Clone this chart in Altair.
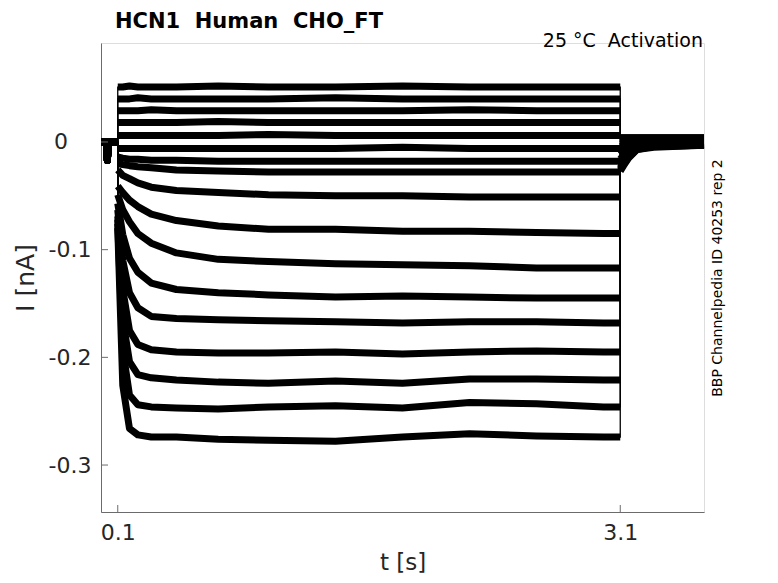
import altair as alt
import pandas as pd

# ---- data ----
HOLD_T = [0.0, 0.034, 0.038, 0.042, 0.046, 0.1]
HOLD_I = [0.0, 0.0, -0.017, -0.006, 0.0, 0.0]

STEP_T = [0.1, 0.13, 0.17, 0.22, 0.3, 0.45, 0.7, 1.0, 1.4, 1.8, 2.2, 2.6, 3.0, 3.1]
STEP_I = [
    [0.051, 0.051, 0.052, 0.051, 0.051, 0.051, 0.052, 0.051, 0.051, 0.052, 0.051, 0.051, 0.051, 0.051],
    [0.040, 0.040, 0.040, 0.041, 0.040, 0.040, 0.040, 0.040, 0.041, 0.040, 0.040, 0.040, 0.040, 0.040],
    [0.029, 0.029, 0.029, 0.029, 0.030, 0.029, 0.029, 0.029, 0.029, 0.029, 0.030, 0.029, 0.029, 0.029],
    [0.018, 0.018, 0.018, 0.018, 0.018, 0.018, 0.019, 0.018, 0.018, 0.018, 0.018, 0.018, 0.018, 0.018],
    [0.006, 0.006, 0.006, 0.006, 0.006, 0.006, 0.006, 0.007, 0.006, 0.006, 0.006, 0.006, 0.006, 0.006],
    [-0.006, -0.006, -0.006, -0.006, -0.006, -0.006, -0.006, -0.006, -0.006, -0.005, -0.006, -0.006, -0.006, -0.006],
    [-0.014, -0.015, -0.016, -0.016, -0.017, -0.017, -0.018, -0.018, -0.018, -0.018, -0.018, -0.018, -0.018, -0.018],
    [-0.020, -0.021, -0.022, -0.023, -0.024, -0.026, -0.027, -0.028, -0.028, -0.028, -0.028, -0.028, -0.028, -0.028],
    [-0.026, -0.031, -0.034, -0.038, -0.042, -0.045, -0.047, -0.049, -0.050, -0.050, -0.051, -0.051, -0.051, -0.051],
    [-0.041, -0.047, -0.054, -0.060, -0.067, -0.073, -0.078, -0.081, -0.081, -0.083, -0.083, -0.084, -0.085, -0.085],
    [-0.049, -0.063, -0.074, -0.085, -0.094, -0.103, -0.109, -0.111, -0.113, -0.114, -0.115, -0.117, -0.117, -0.117],
    [-0.057, -0.086, -0.108, -0.121, -0.131, -0.137, -0.140, -0.142, -0.144, -0.143, -0.144, -0.145, -0.145, -0.145],
    [-0.063, -0.110, -0.140, -0.154, -0.162, -0.164, -0.165, -0.166, -0.167, -0.168, -0.167, -0.167, -0.168, -0.168],
    [-0.069, -0.137, -0.175, -0.188, -0.193, -0.195, -0.196, -0.196, -0.195, -0.197, -0.195, -0.194, -0.195, -0.195],
    [-0.072, -0.165, -0.204, -0.216, -0.219, -0.221, -0.223, -0.224, -0.222, -0.224, -0.220, -0.220, -0.221, -0.221],
    [-0.076, -0.193, -0.235, -0.244, -0.246, -0.247, -0.248, -0.246, -0.245, -0.247, -0.242, -0.243, -0.246, -0.246],
    [-0.080, -0.226, -0.266, -0.272, -0.274, -0.274, -0.276, -0.277, -0.278, -0.274, -0.271, -0.273, -0.274, -0.274],
]

TAIL_T = [3.1, 3.12, 3.15, 3.2, 3.3, 3.6]
TAIL_I = [
    [0.004, 0.004, 0.004, 0.004, 0.004, 0.004],
    [0.004, 0.004, 0.004, 0.004, 0.004, 0.004],
    [0.003, 0.003, 0.003, 0.003, 0.003, 0.003],
    [0.002, 0.002, 0.002, 0.002, 0.002, 0.002],
    [0.002, 0.002, 0.002, 0.002, 0.002, 0.002],
    [0.001, 0.001, 0.001, 0.001, 0.001, 0.001],
    [-0.002, -0.001, 0.0, 0.0, 0.0, 0.0],
    [-0.004, -0.003, -0.001, 0.0, 0.001, 0.001],
    [-0.008, -0.006, -0.003, -0.001, 0.0, 0.0],
    [-0.012, -0.009, -0.005, -0.002, -0.001, 0.0],
    [-0.016, -0.012, -0.007, -0.003, -0.002, -0.001],
    [-0.019, -0.015, -0.009, -0.004, -0.002, -0.001],
    [-0.022, -0.017, -0.011, -0.005, -0.003, -0.002],
    [-0.024, -0.019, -0.012, -0.006, -0.004, -0.002],
    [-0.025, -0.020, -0.013, -0.006, -0.004, -0.003],
    [-0.026, -0.021, -0.014, -0.007, -0.004, -0.003],
    [-0.027, -0.022, -0.015, -0.007, -0.005, -0.003],
]

X_TICKS = [0.1, 3.1]
Y_TICKS = [0, -0.1, -0.2, -0.3]
ZERO_LABEL = ["0"]
X_DOMAIN = [0.0, 3.6]
Y_DOMAIN = [-0.3436, 0.0919]

TITLE = ["HCN1\u00a0 Human\u00a0 CHO_FT"]
SUBTITLE = ["25 \u00b0C\u00a0 Activation"]
SIDE_TEXT = ["BBP Channelpedia ID 40253 rep 2"]

# ---- build table ----
rows = []
for k in range(len(STEP_I)):
    idx = 0
    for t, v in zip(HOLD_T, HOLD_I):
        rows.append(dict(trace=k, seg="hold", t=t, i=v, idx=idx)); idx += 1
    for t, v in zip(STEP_T, STEP_I[k]):
        rows.append(dict(trace=k, seg="step", t=t, i=v, idx=idx)); idx += 1
    for t, v in zip(TAIL_T, TAIL_I[k]):
        rows.append(dict(trace=k, seg="tail", t=t, i=v, idx=idx)); idx += 1
df = pd.DataFrame(rows)
df["key"] = df["trace"].astype(str) + "_" + df["seg"]

W, H = 603, 469
FONT = "DejaVu Sans"
TXT = "#262626"
AX = "#6b6b6b"

xs = alt.Scale(domain=X_DOMAIN, nice=False, zero=False)
ys = alt.Scale(domain=Y_DOMAIN, nice=False, zero=False)

x_axis = alt.Axis(values=X_TICKS, format=".1f", grid=False, ticks=False, tickSize=0,
                  domainColor=AX, domainWidth=1, labelFontSize=22, labelColor=TXT,
                  labelFont=FONT, labelPadding=10, title="t [s]", titleFont=FONT,
                  titleFontSize=23, titleFontWeight="normal", titleColor=TXT,
                  titleX=W / 2, titleY=57, titleBaseline="alphabetic", titleAlign="center")
y_axis = alt.Axis(values=Y_TICKS, grid=False, ticks=False, tickSize=0,
                  domainColor=AX, domainWidth=1, labelFontSize=22, labelColor=TXT,
                  labelFont=FONT, labelPadding=10,
                  labelExpr="datum.value == 0 ? '' : '-' + format(-datum.value, '.1f')",
                  title="I [nA]", titleFont=FONT, titleFontSize=25,
                  titleFontWeight="normal", titleColor=TXT, titleX=-76, titleY=H / 2,
                  titleBaseline="middle", titleAlign="center", titleAngle=-90)

base = alt.Chart(df)
thick = base.mark_line(color="black", strokeWidth=7, strokeJoin="round").encode(
    x=alt.X("t:Q", scale=xs, axis=x_axis),
    y=alt.Y("i:Q", scale=ys, axis=y_axis),
    detail="key:N",
    order="idx:Q",
)
thin = base.mark_line(color="black", strokeWidth=1.3).encode(
    x=alt.X("t:Q", scale=xs),
    y=alt.Y("i:Q", scale=ys),
    detail="trace:N",
    order="idx:Q",
)

yt = alt.Chart(pd.DataFrame({"v": Y_TICKS})).mark_rule(color=AX, strokeWidth=1).encode(
    y=alt.Y("v:Q", scale=ys), x=alt.value(0), x2=alt.value(7))
xt = alt.Chart(pd.DataFrame({"v": X_TICKS})).mark_rule(color=AX, strokeWidth=1).encode(
    x=alt.X("v:Q", scale=xs), y=alt.value(H), y2=alt.value(H - 7))

zero_lab = alt.Chart(pd.DataFrame({"v": [0.0], "s": ZERO_LABEL})).mark_text(
    font=FONT, fontSize=22, color=TXT, align="right", baseline="middle").encode(
    y=alt.Y("v:Q", scale=ys), x=alt.value(-33), text="s:N")

title = alt.Chart(pd.DataFrame({"s": TITLE})).mark_text(
    font=FONT, fontSize=21, fontWeight="bold", color="black", align="left",
    baseline="alphabetic").encode(text="s:N", x=alt.value(14), y=alt.value(-15))
sub = alt.Chart(pd.DataFrame({"s": SUBTITLE})).mark_text(
    font=FONT, fontSize=19, color="black", align="right",
    baseline="alphabetic").encode(text="s:N", x=alt.value(602), y=alt.value(4))
side = alt.Chart(pd.DataFrame({"s": SIDE_TEXT})).mark_text(
    font=FONT, fontSize=14, color="black", align="center", baseline="middle",
    angle=270).encode(text="s:N", x=alt.value(617), y=alt.value(235))

chart = alt.layer(thick, thin, yt, xt, zero_lab, title, sub, side).properties(
    width=W, height=H,
    autosize=alt.AutoSizeParams(type="none"),
    padding={"left": 93, "top": 35, "right": 66, "bottom": 63},
).configure_view(stroke=None).configure(background="white")

chart.save("out.html", embed_options={"renderer": "svg", "actions": False})
